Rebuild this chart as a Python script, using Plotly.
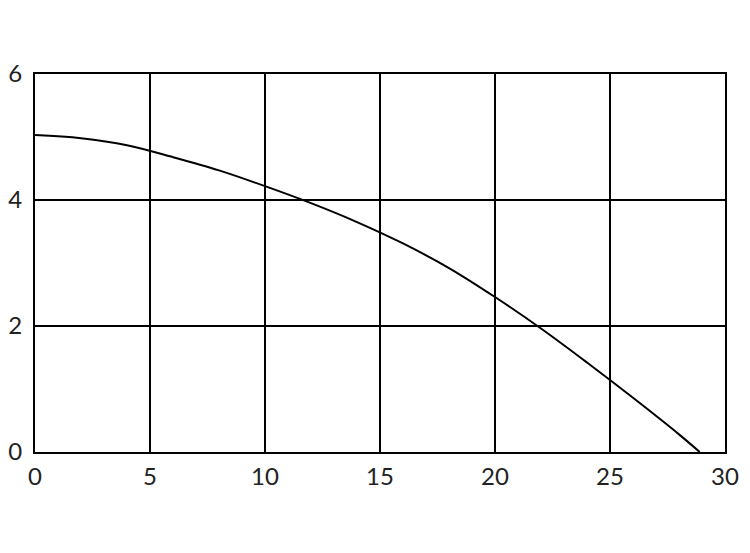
import plotly.graph_objects as go

flow = [0, 2, 4, 6, 8, 10, 12, 14, 16, 18, 20, 22, 24, 26, 28, 28.9]
head = [5.03, 4.98, 4.87, 4.68, 4.47, 4.22, 3.95, 3.65, 3.31, 2.92, 2.46, 1.96, 1.42, 0.86, 0.28, 0.0]

x_ticks = [0, 5, 10, 15, 20, 25, 30]
y_ticks = [0, 2, 4, 6]

fig = go.Figure()
fig.add_trace(go.Scatter(x=flow, y=head, mode="lines", line=dict(color="black", width=2, shape="spline"),
                         showlegend=False, hoverinfo="skip"))

axis_common = dict(showgrid=True, gridcolor="black", gridwidth=2, zeroline=False,
                   showline=True, linecolor="black", linewidth=2, mirror=True, automargin=False,
                   ticks="", tickfont=dict(family="Lato, sans-serif", size=24, color="#222"))

fig.update_xaxes(range=[0, 30], tickvals=x_ticks, ticktext=[str(v) for v in x_ticks],
                 ticklabelstandoff=2, **axis_common)
fig.update_yaxes(range=[0, 6], tickvals=y_ticks, ticktext=[str(v) for v in y_ticks],
                 ticklabelstandoff=6, **axis_common)

fig.update_layout(width=750, height=553, paper_bgcolor="white", plot_bgcolor="white",
                  margin=dict(l=27, r=33, t=66, b=109))

fig.write_html("out.html")
